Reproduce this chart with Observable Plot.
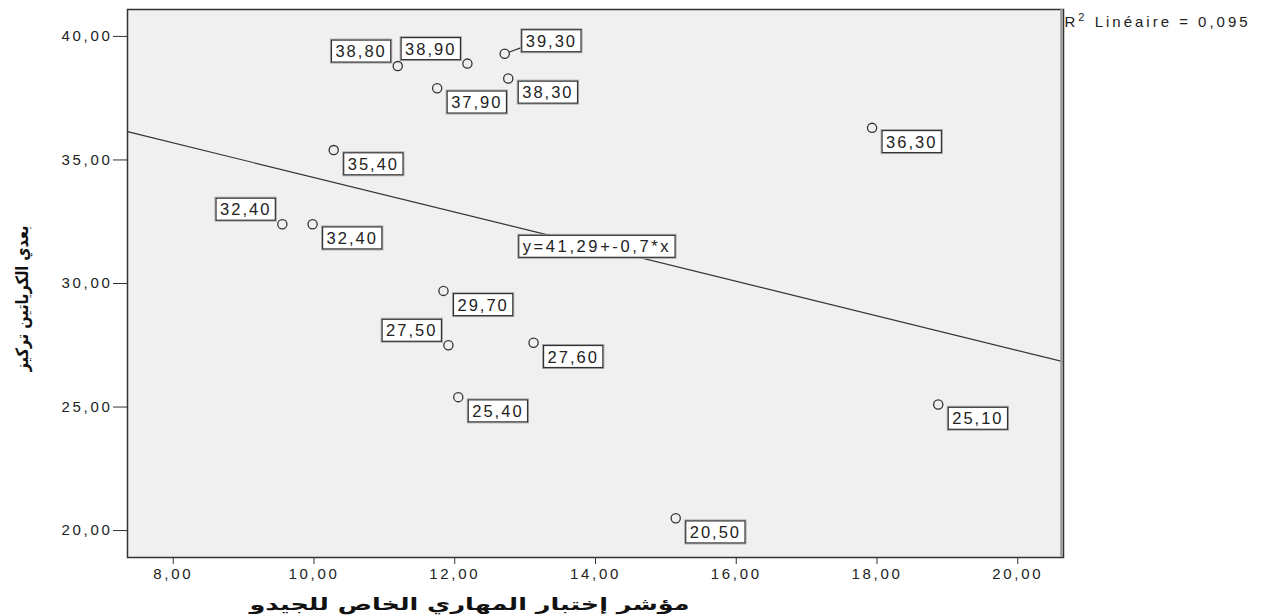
<!DOCTYPE html>
<html><head><meta charset="utf-8">
<script src="https://cdn.jsdelivr.net/npm/d3@7"></script>
<script src="https://cdn.jsdelivr.net/npm/@observablehq/plot@0.6"></script>
<style>body{margin:0;background:#fff} svg{display:block}</style>
</head><body><div id="chart"></div>
<script>
// ---- data ----
const xValues = [11.19, 12.18, 12.71, 11.75, 12.76, 10.28, 17.93, 9.55, 9.98, 11.84, 11.91, 13.12, 12.05, 18.87, 15.14];
const yValues = [38.8, 38.9, 39.3, 37.9, 38.3, 35.4, 36.3, 32.4, 32.4, 29.7, 27.5, 27.6, 25.4, 25.1, 20.5];
const labelSide = ["nw","nw","ne","se","se","se","se","nw","se","se","nw","se","se","se","se"];
const fitIntercept = 41.29;
const fitSlope = -0.7;
const eqAtX = 14.02;
const xTicks = [8, 10, 12, 14, 16, 18, 20];
const yTicks = [20, 25, 30, 35, 40];
const xDomain = [7.35, 20.65];
const yDomain = [18.91, 41.09];
const xLabel = "مؤشر إختبار المهاري الخاص للجيدو";
const yLabel = "بعدي الكرياتين تركيز";
const eqLabel = "y=41,29+-0,7*x";
const r2Label = "R2 Linéaire = 0,095";

const fmt = d => d.toFixed(2).replace(".", ",");
const pts = xValues.map((x, i) => ({x, y: yValues[i], side: labelSide[i], label: fmt(yValues[i])}));
const fitLine = xDomain.map(x => ({x, y: fitIntercept + fitSlope * x}));
const eqPoint = [{x: eqAtX, y: fitIntercept + fitSlope * eqAtX, label: eqLabel}];

const labelFont = {fontSize: 16.5, fill: "#222"};
const leader = {draw(ctx, l) { ctx.moveTo(0, -5); ctx.lineTo(0, -l); }};

const svg = Plot.plot({
  width: 1271, height: 616,
  marginLeft: 127, marginRight: 208, marginTop: 9, marginBottom: 59,
  style: {fontFamily: "'Liberation Sans', Arial, sans-serif", fontSize: "15px", color: "#222", background: "#fff"},
  x: {domain: xDomain, ticks: xTicks, tickFormat: fmt},
  y: {domain: yDomain, ticks: yTicks, tickFormat: fmt},
  marks: [
    Plot.frame({fill: "#f0f0f0", stroke: "none"}),
    Plot.line(fitLine, {x: "x", y: "y", stroke: "#333", strokeWidth: 1.2, clip: true}),
    Plot.vector(pts.filter(d => d.side === "ne"), {x: "x", y: "y", length: 17, rotate: 70, anchor: "start", shape: leader, stroke: "#333", strokeWidth: 1.2}),
    Plot.dot(pts, {x: "x", y: "y", r: 4.6, stroke: "#333", strokeWidth: 1.3, fill: "#f0f0f0"}),
    Plot.text(pts.filter(d => d.side === "se"), {x: "x", y: "y", text: "label", textAnchor: "start", lineAnchor: "top", dx: 14, dy: 8, ...labelFont}),
    Plot.text(pts.filter(d => d.side === "nw"), {x: "x", y: "y", text: "label", textAnchor: "end", lineAnchor: "bottom", dx: -11, dy: -9, ...labelFont}),
    Plot.text(pts.filter(d => d.side === "ne"), {x: "x", y: "y", text: "label", textAnchor: "start", lineAnchor: "bottom", dx: 21, dy: -7, ...labelFont}),
    Plot.text(eqPoint, {x: "x", y: "y", text: "label", textAnchor: "middle", lineAnchor: "middle", ...labelFont}),
    Plot.frame({stroke: "#333", strokeWidth: 1.5}),
    Plot.ruleX([xDomain[1]], {stroke: "#999", strokeWidth: 2.5, dx: -2}),
    Plot.axisY({ticks: yTicks, tickFormat: fmt, tickSize: 14, tickPadding: 1, label: null, stroke: "#333"}),
    Plot.axisX({ticks: xTicks, tickFormat: fmt, tickSize: 7, tickPadding: 4, label: null, stroke: "#333"}),
    Plot.text([xLabel], {frameAnchor: "bottom", dx: -126, dy: 47, textAnchor: "middle", lineAnchor: "middle", fontSize: 17, fontWeight: "bold", fontFamily: "'DejaVu Sans', sans-serif", fill: "#111"}),
    Plot.text([yLabel], {frameAnchor: "left", dx: -105, dy: 15, textAnchor: "middle", lineAnchor: "middle", rotate: -90, fontSize: 17, fontWeight: "bold", fontFamily: "'DejaVu Sans', sans-serif", fill: "#111"}),
    Plot.text([r2Label], {frameAnchor: "top-right", dx: 1, dy: 7, textAnchor: "start", fontSize: 15, fill: "#222"})
  ]
});
document.getElementById("chart").append(svg);

// letter spacing like the SPSS rendering
svg.querySelectorAll('g[aria-label="y-axis tick label"] text, g[aria-label="x-axis tick label"] text').forEach(t => t.setAttribute("letter-spacing", "2.7"));
const boxedTexts = Array.from(svg.querySelectorAll('g[font-size="16.5"] text'));
boxedTexts.forEach(t => t.setAttribute("letter-spacing", t.textContent.startsWith("y") ? "2.6" : "2"));
const ns = "http://www.w3.org/2000/svg";
svg.querySelectorAll('text').forEach(t => {
  const s = t.textContent;
  if (s === r2Label) {
    t.setAttribute("letter-spacing", "3");
    t.textContent = "R";
    const sup = document.createElementNS(ns, "tspan");
    sup.setAttribute("font-size", "11"); sup.setAttribute("dy", "-6"); sup.textContent = "2";
    const rest = document.createElementNS(ns, "tspan");
    rest.setAttribute("dy", "6"); rest.textContent = s.slice(2);
    t.append(sup, rest);
  }
  if (s === xLabel) { t.setAttribute("textLength", "440"); t.setAttribute("lengthAdjust", "spacingAndGlyphs"); }
  if (s === yLabel) { t.setAttribute("textLength", "146"); t.setAttribute("lengthAdjust", "spacingAndGlyphs"); }
});

// boxes behind labels
boxedTexts.forEach(t => {
  const bb = t.getBBox();
  const g = t.parentNode;
  const tr = t.getAttribute("transform");
  const px = 4, py = 2;
  const outer = document.createElementNS(ns, "rect");
  outer.setAttribute("x", bb.x - px - 1); outer.setAttribute("y", bb.y - py - 1);
  outer.setAttribute("width", bb.width + 2 * px + 2); outer.setAttribute("height", bb.height + 2 * py + 2);
  outer.setAttribute("fill", "none"); outer.setAttribute("stroke", "#aaa"); outer.setAttribute("stroke-width", "1");
  const r = document.createElementNS(ns, "rect");
  r.setAttribute("x", bb.x - px); r.setAttribute("y", bb.y - py);
  r.setAttribute("width", bb.width + 2 * px); r.setAttribute("height", bb.height + 2 * py);
  r.setAttribute("fill", "#fff"); r.setAttribute("stroke", "#333"); r.setAttribute("stroke-width", "1.2");
  if (tr) { outer.setAttribute("transform", tr); r.setAttribute("transform", tr); }
  g.insertBefore(outer, t);
  g.insertBefore(r, t);
});
</script>
</body></html>
